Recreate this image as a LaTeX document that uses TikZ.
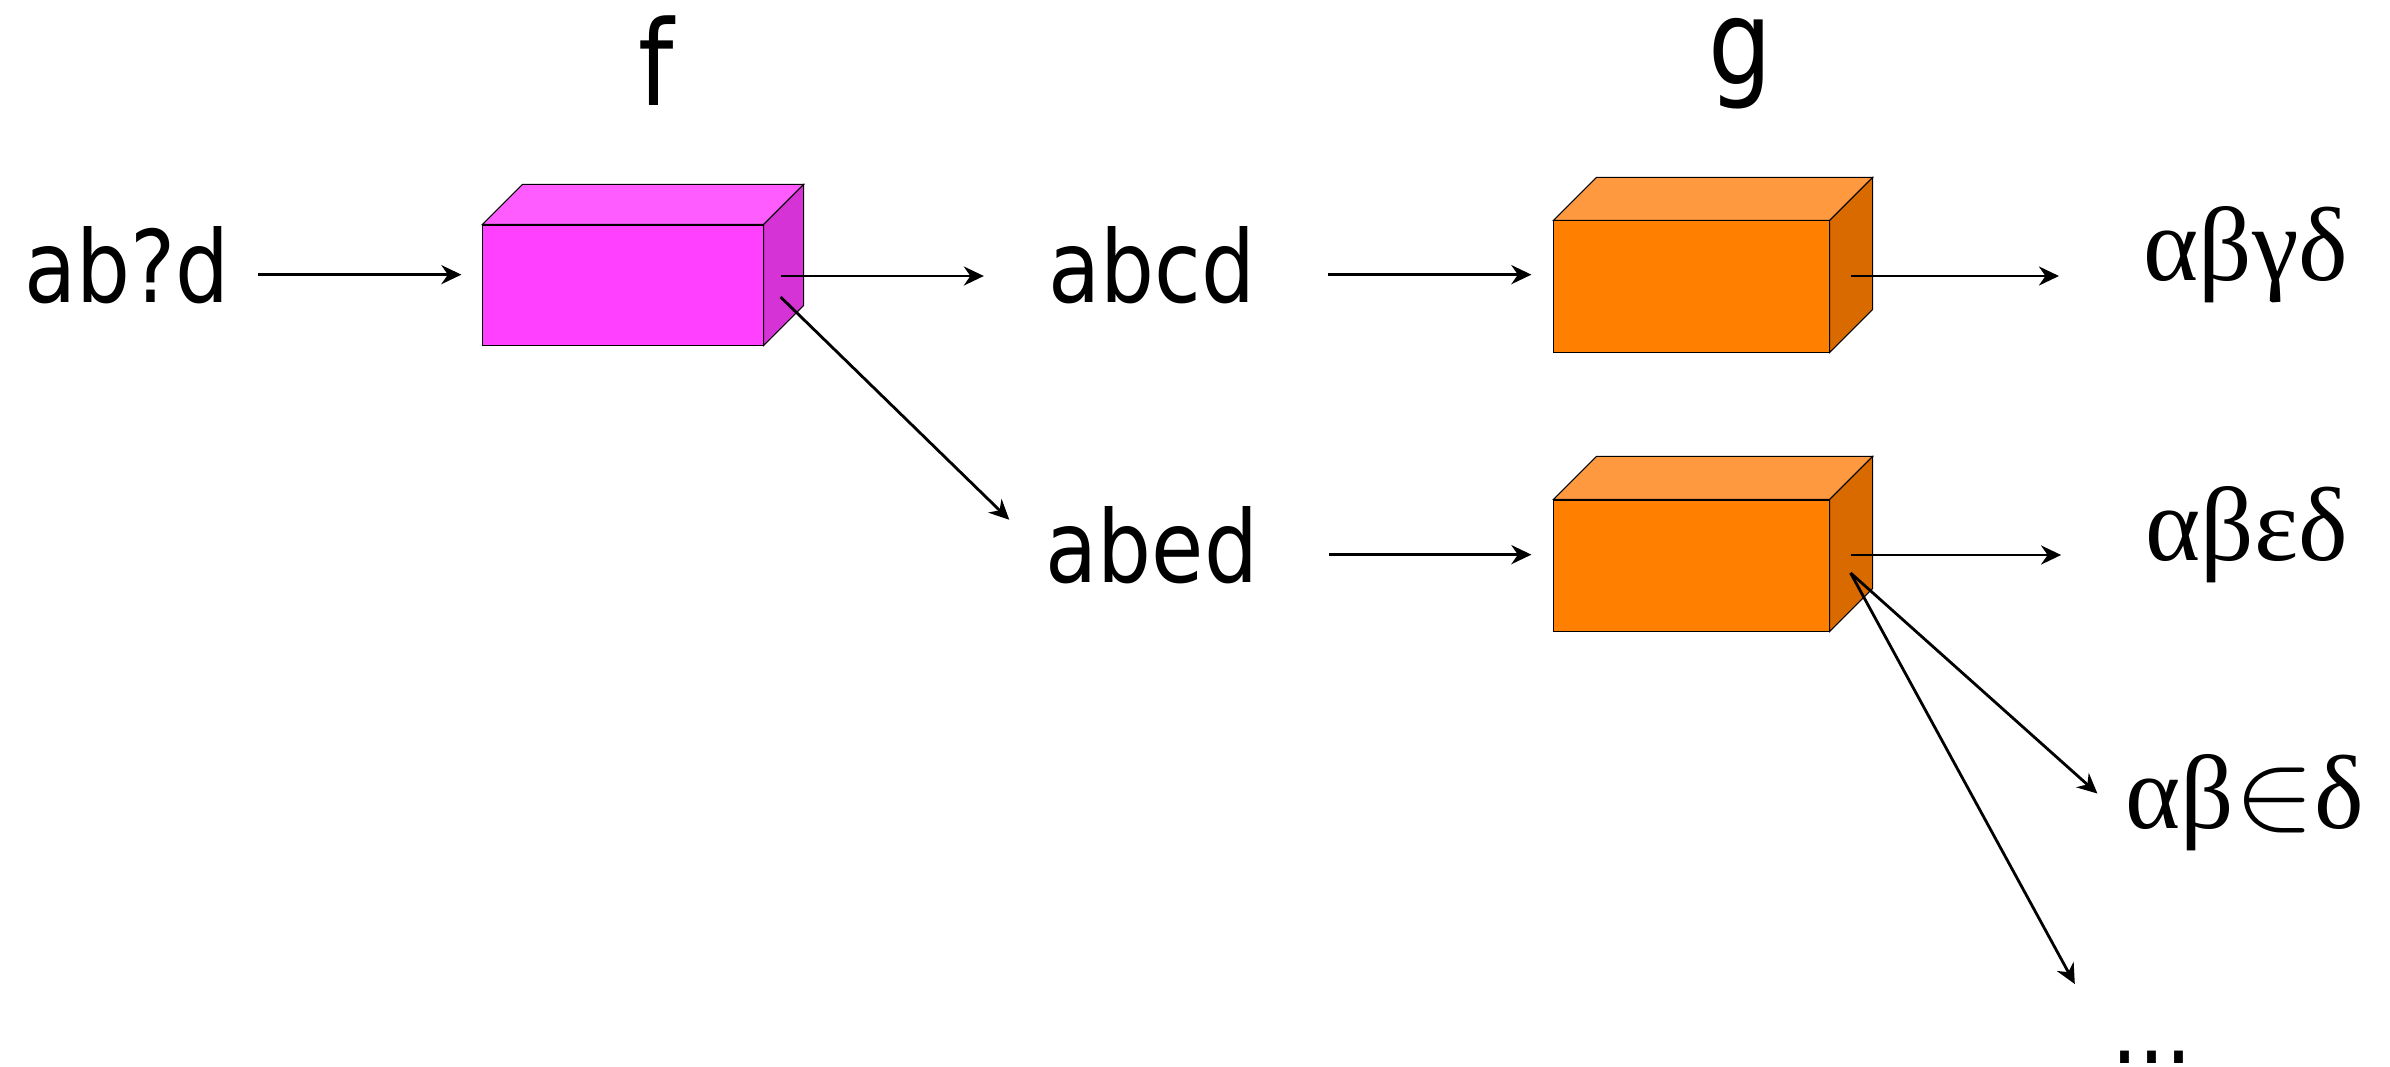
\documentclass[tikz,border=0pt]{standalone}
\usepackage{graphicx}
\usepackage{fontspec}
\setmainfont{DejaVu Sans}[FakeStretch=0.85]
\newfontfamily\greekfont{Liberation Serif}
\usetikzlibrary{arrows.meta,calc}

\definecolor{fuchsfront}{HTML}{FF40FF}
\definecolor{fuchstop}{HTML}{FF5CFF}
\definecolor{fuchsside}{HTML}{D633D6}
\definecolor{orfront}{HTML}{FF7F00}
\definecolor{ortop}{HTML}{FF9940}
\definecolor{orside}{HTML}{D96A00}

\begin{document}
\fontsize{28.45pt}{34pt}\selectfont
\begin{tikzpicture}[
	x=0.01cm, y=-0.01cm,
	word/.style={ inner sep=0pt, anchor=base },
	fname/.style={ inner sep=0pt, anchor=base, font=\fontsize{33.6pt}{40pt}\selectfont },
	greek/.style={ inner sep=0pt, anchor=base, font=\greekfont\fontsize{29.9pt}{36pt}\selectfont },
	boxf/.style={ draw, line width=0.3pt, fill=fuchsfront, inner sep=0pt, minimum width=2.8cm, minimum height=1.2cm },
	boxg/.style={ draw, line width=0.3pt, fill=orfront, inner sep=0pt, minimum width=2.75cm, minimum height=1.31cm },
	arr/.style={ -{Stealth[length=0.2cm,width=0.19cm]}, line width=0.8pt }
]
\useasboundingbox (0,0) rectangle (2390,1066);

% function boxes
\node at (623,285) (f) [boxf] {};
\node at (1691.5,286.5) (g1) [boxg] {};
\node at (1691.5,565.5) (g2) [boxg] {};
\foreach \b/\d/\ct/\cs in {f/40/fuchstop/fuchsside,g1/43/ortop/orside,g2/43/ortop/orside} {
	\filldraw[fill=\ct, line width=0.3pt] (\b.north west) -- ++(\d,-\d)
		-- ($(\b.north east)+(\d,-\d)$) -- (\b.north east) -- cycle;
	\filldraw[fill=\cs, line width=0.3pt] (\b.north east) -- ++(\d,-\d)
		-- ($(\b.south east)+(\d,-\d)$) -- (\b.south east) -- cycle;
}
\node at (656,105) (lf) [fname] {f};
\node at (1740,84) (lg) [fname] {g};

% strings
\node at (127,302) (abd) [word] {ab?d};
\node at (1152,302) (abcd) [word] {abcd};
\node at (1152,582) (abed) [word] {abed};
\node at (2246,280) (o1) [greek] {αβγδ};
\node at (2247,560) (o2) [greek] {αβεδ};
\node at (2245,828) (o3) [greek] {αβ\scalebox{1.38}[1.28]{$\in$}δ};
\node at (2152,1063) (dots) [word] {...};

% ports on the side faces
\coordinate (fa) at ($(f.east)+(17,-9)$);
\coordinate (fb) at ($(f.east)+(17,12)$);
\coordinate (ga) at ($(g1.east)+(21,-10.5)$);
\coordinate (gb) at ($(g2.east)+(21,-10.5)$);
\coordinate (gc) at ($(g2.east)+(21,7.5)$);

% arrows
\draw[arr, shorten <=0.28cm, shorten >=0.21cm] (abd.mid east) -- (abd.mid east -| f.west);
\draw[arr, shorten >=0.64cm] (fa) -- (fa -| abcd.west);
\draw[arr, shorten >=0.5cm] (fb) -- (abed.mid west);
\draw[arr, shorten <=0.72cm, shorten >=0.22cm] (abcd.mid east) -- (abcd.mid east -| g1.west);
\draw[arr, shorten <=0.70cm, shorten >=0.22cm] (abed.mid east) -- (abed.mid east -| g2.west);
\draw[arr, shorten >=0.84cm] (ga) -- (ga -| o1.west);
\draw[arr, shorten >=0.84cm] (gb) -- (gb -| o2.west);
\draw[arr, shorten >=0.37cm] (gc) -- ($(o3.west)+(0,16)$);
\draw[arr, shorten >=0.75cm] (gc) -- (dots.north west);

\end{tikzpicture}
\end{document}
